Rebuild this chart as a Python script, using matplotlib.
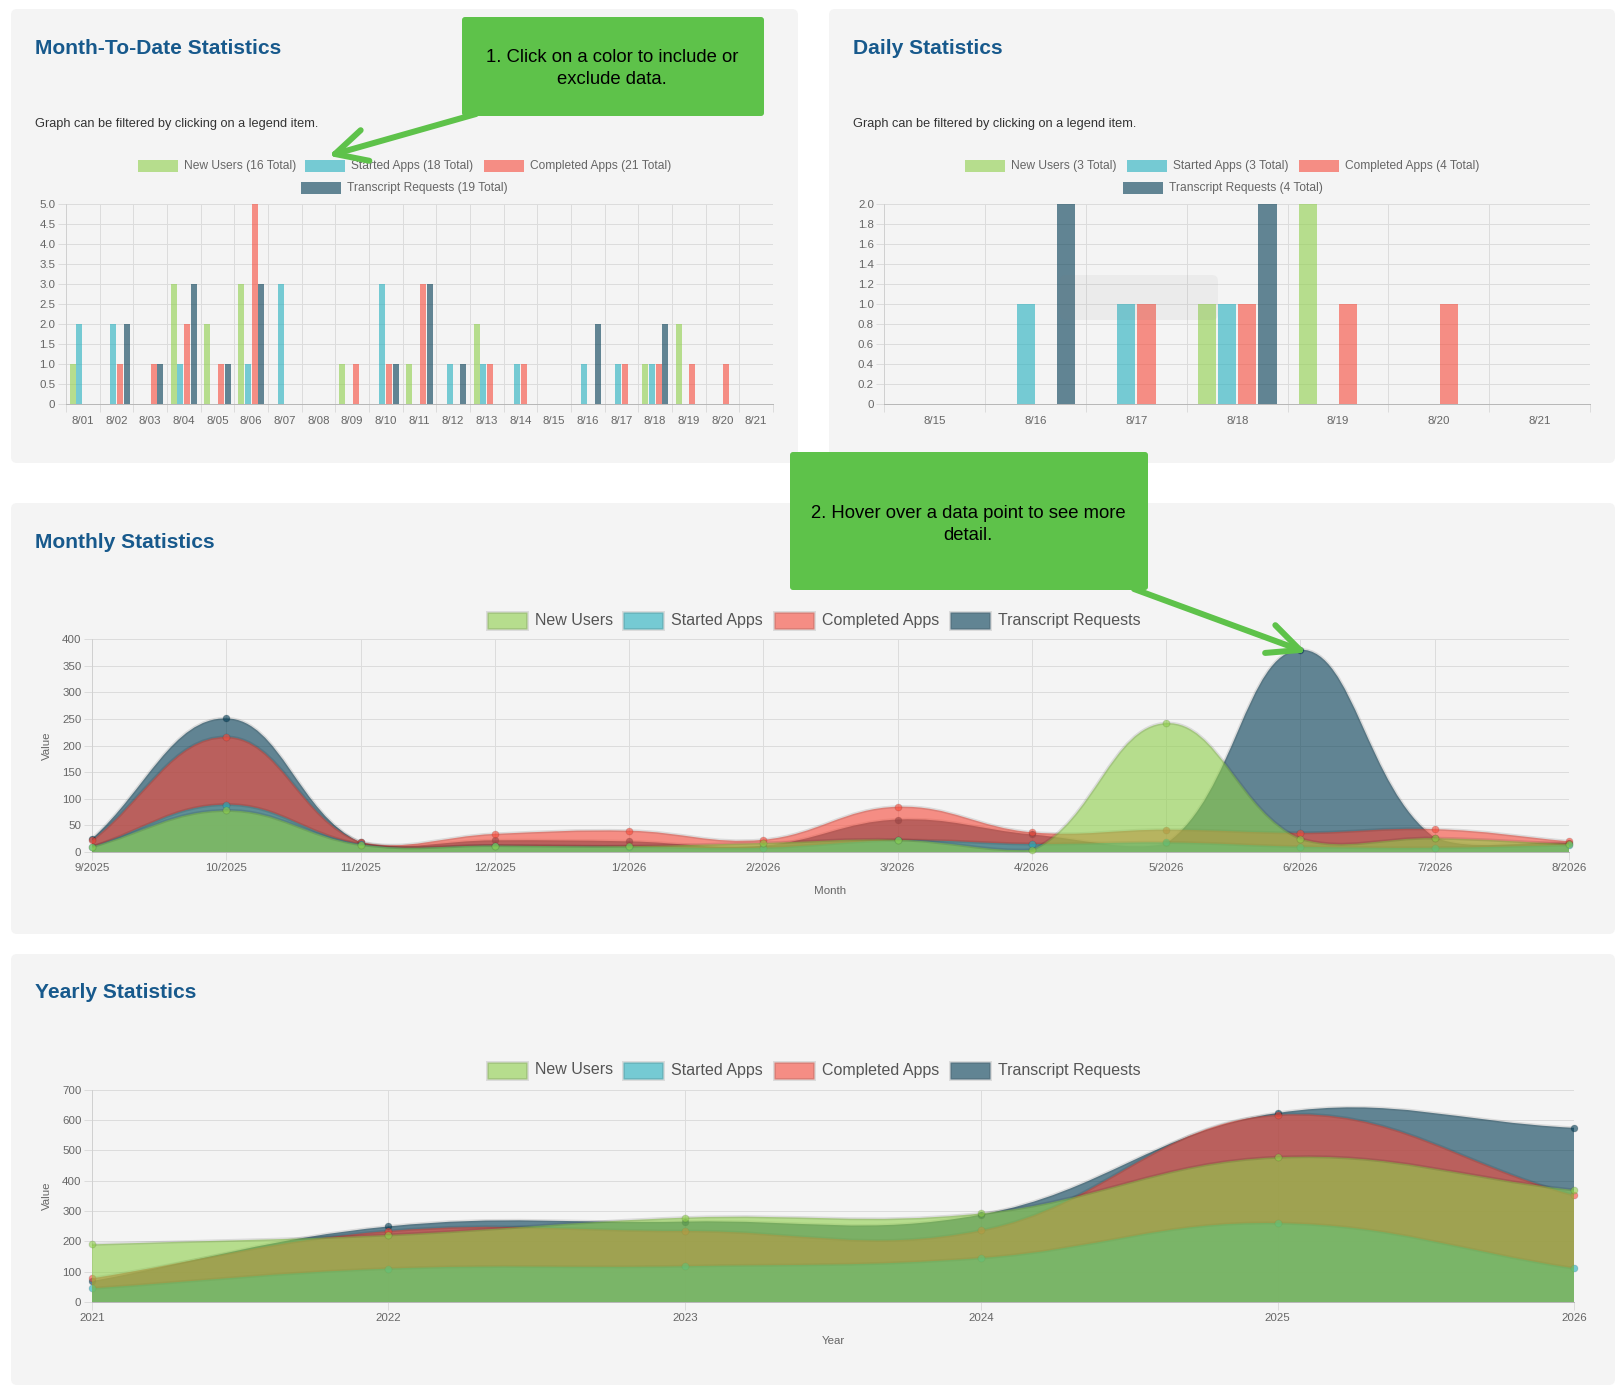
import numpy as np
import matplotlib
matplotlib.use('Agg')
import matplotlib.pyplot as plt
from matplotlib.patches import FancyBboxPatch, Rectangle, PathPatch
from matplotlib.path import Path
from matplotlib.lines import Line2D

W, H = 1624, 1387
DPI = 100
plt.rcParams['font.family'] = ['Liberation Sans', 'DejaVu Sans']

# ---------------- data ----------------
series_names = ['New Users', 'Started Apps', 'Completed Apps', 'Transcript Requests']

mtd_days = ['8/01', '8/02', '8/03', '8/04', '8/05', '8/06', '8/07', '8/08', '8/09', '8/10',
            '8/11', '8/12', '8/13', '8/14', '8/15', '8/16', '8/17', '8/18', '8/19', '8/20', '8/21']
mtd_new_users = [1, 0, 0, 3, 2, 3, 0, 0, 1, 0, 1, 0, 2, 0, 0, 0, 0, 1, 2, 0, 0]
mtd_started = [2, 2, 0, 1, 0, 1, 3, 0, 0, 3, 0, 1, 1, 1, 0, 1, 1, 1, 0, 0, 0]
mtd_completed = [0, 1, 1, 2, 1, 5, 0, 0, 1, 1, 3, 0, 1, 1, 0, 0, 1, 1, 1, 1, 0]
mtd_transcripts = [0, 2, 1, 3, 1, 3, 0, 0, 0, 1, 3, 1, 0, 0, 0, 2, 0, 2, 0, 0, 0]

daily_days = ['8/15', '8/16', '8/17', '8/18', '8/19', '8/20', '8/21']
daily_new_users = [0, 0, 0, 1, 2, 0, 0]
daily_started = [0, 1, 1, 1, 0, 0, 0]
daily_completed = [0, 0, 1, 1, 1, 1, 0]
daily_transcripts = [0, 2, 0, 2, 0, 0, 0]

months = ['9/2025', '10/2025', '11/2025', '12/2025', '1/2026', '2/2026', '3/2026',
          '4/2026', '5/2026', '6/2026', '7/2026', '8/2026']
m_new_users = [10, 78, 14, 12, 11, 17, 23, 4, 242, 25, 26, 15]
m_started = [10, 89, 15, 12, 10, 8, 22, 15, 18, 10, 8, 13]
m_completed = [22, 216, 19, 34, 40, 23, 85, 37, 42, 36, 43, 20]
m_transcripts = [25, 251, 18, 22, 20, 12, 61, 33, 16, 380, 27, 17]

years = ['2021', '2022', '2023', '2024', '2025', '2026']
y_new_users = [190, 221, 278, 292, 477, 369]
y_started = [45, 110, 118, 145, 260, 111]
y_completed = [78, 234, 234, 236, 617, 352]
y_transcripts = [69, 249, 265, 288, 623, 574]

# ---------------- style ----------------
BASE = [(142/255, 207/255, 73/255), (33/255, 175/255, 190/255),
        (247/255, 73/255, 57/255), (0/255, 58/255, 83/255)]
ALPHA = 0.6
def fc(i):
    return (*BASE[i], ALPHA)

PANEL = '#f4f4f4'
TITLE_C = '#17598c'
GRID = '#dcdcdc'
ZERO = '#b8b8b8'
AXL = '#d0d0d0'
TICK_C = '#666666'
GREEN = '#5ec24a'
PX = 0.72  # px -> pt


def px_rect(x0, y0, x1, y1):
    return [x0 / W, 1 - y1 / H, (x1 - x0) / W, (y1 - y0) / H]


fig = plt.figure(figsize=(W / DPI, H / DPI), dpi=DPI)
fig.patch.set_facecolor('white')

bg = fig.add_axes([0, 0, 1, 1], zorder=0)
bg.set_xlim(0, W); bg.set_ylim(H, 0); bg.axis('off')
top = fig.add_axes([0, 0, 1, 1], zorder=10)
top.set_xlim(0, W); top.set_ylim(H, 0); top.axis('off')

# panels
for (x0, y0, x1, y1) in [(11, 9, 798, 463), (829, 9, 1615, 463),
                         (11, 503, 1615, 934), (11, 954, 1615, 1385)]:
    bg.add_patch(FancyBboxPatch((x0, y0), x1 - x0, y1 - y0,
                                boxstyle='round,pad=0,rounding_size=6',
                                fc=PANEL, ec='none'))

# titles / subtitles
for (x, y, t) in [(35, 49, 'Month-To-Date Statistics'), (853, 49, 'Daily Statistics'),
                  (35, 543, 'Monthly Statistics'), (35, 993, 'Yearly Statistics')]:
    bg.text(x, y, t, fontsize=21 * PX, fontweight='bold', color=TITLE_C, va='center', ha='left')
for x in (35, 853):
    bg.text(x, 124, 'Graph can be filtered by clicking on a legend item.', fontsize=12.75 * PX,
            color='#333333', va='center', ha='left')


def bar_legend(items, fontpx=12):
    for (bx, by, i, label) in items:
        bg.add_patch(Rectangle((bx, by - 6), 40, 12, fc=fc(i), ec='none'))
        bg.text(bx + 46, by, label, fontsize=fontpx * PX, color=TICK_C, va='center', ha='left')


def line_legend(y):
    xs = [487, 623.5, 774, 950]
    for i, bx in enumerate(xs):
        bg.add_patch(Rectangle((bx, y - 8.5), 40, 17, fc=fc(i), ec=(0, 0, 0, 0.1), lw=3 * PX))
        bg.text(bx + 48, y, series_names[i], fontsize=16 * PX, color='#555555',
                va='center', ha='left')


mtd_series = [mtd_new_users, mtd_started, mtd_completed, mtd_transcripts]
daily_series = [daily_new_users, daily_started, daily_completed, daily_transcripts]

bar_legend([(137.7, 165.7, 0, f'{series_names[0]} ({sum(mtd_series[0])} Total)'),
            (305.5, 165.7, 1, f'{series_names[1]} ({sum(mtd_series[1])} Total)'),
            (483.7, 165.7, 2, f'{series_names[2]} ({sum(mtd_series[2])} Total)'),
            (301.4, 187.5, 3, f'{series_names[3]} ({sum(mtd_series[3])} Total)')])
bar_legend([(965.3, 165.7, 0, f'{series_names[0]} ({sum(daily_series[0])} Total)'),
            (1126.8, 165.7, 1, f'{series_names[1]} ({sum(daily_series[1])} Total)'),
            (1298.8, 165.7, 2, f'{series_names[2]} ({sum(daily_series[2])} Total)'),
            (1122.7, 187.5, 3, f'{series_names[3]} ({sum(daily_series[3])} Total)')])
line_legend(620.4)
line_legend(1070)


def style_common(ax):
    ax.set_facecolor('none')
    for s in ('top', 'right'):
        ax.spines[s].set_visible(False)
    ax.spines['left'].set_color(AXL)
    ax.spines['left'].set_linewidth(PX)
    ax.spines['bottom'].set_color(ZERO)
    ax.spines['bottom'].set_linewidth(PX)
    ax.spines['bottom'].set_zorder(2.5)
    ax.tick_params(axis='y', length=8 * PX, width=PX, color=GRID, labelcolor=TICK_C,
                   labelsize=11.5 * PX, pad=2.5 * PX)
    ax.grid(True, axis='y', color=GRID, lw=PX, alpha=1)
    ax.set_axisbelow(True)


def bar_chart(rect, labels, series, ymax, ystep):
    ax = fig.add_axes(px_rect(*rect), zorder=1)
    style_common(ax)
    n = len(labels)
    x = np.arange(n)
    slot = 0.8 / 4
    for i, vals in enumerate(series):
        ax.bar(x + (i - 1.5) * slot, vals, width=slot * 0.9, color=fc(i), lw=0, zorder=3)
    ax.set_xlim(-0.5, n - 0.5)
    ax.set_ylim(0, ymax)
    ax.set_xticks(x)
    ax.set_xticklabels(labels)
    ax.set_xticks(np.arange(-0.5, n), minor=True)
    ax.tick_params(axis='x', which='major', length=0, labelcolor=TICK_C,
                   labelsize=11.5 * PX, pad=12 * PX)
    ax.tick_params(axis='x', which='minor', length=8 * PX, width=PX, color=GRID)
    ax.grid(True, axis='x', which='minor', color=GRID, lw=PX, alpha=1)
    ticks = np.arange(0, ymax + 1e-9, ystep)
    ax.set_yticks(ticks)
    ax.set_yticklabels(['0' if t == 0 else f'{t:.1f}' for t in ticks])
    return ax


bar_chart((66, 204, 773, 404), mtd_days, mtd_series, 5.0, 0.5)
bar_chart((884.5, 204, 1590, 404), daily_days, daily_series, 2.0, 0.2)

# faint tooltip remnant in the daily chart
top.add_patch(FancyBboxPatch((1060, 275), 158, 45, boxstyle='round,pad=0,rounding_size=6',
                             fc=(0.5, 0.5, 0.5, 0.07), ec='none'))


def spline_verts(ax, xs, ys, t=0.4):
    pts = ax.transData.transform(np.column_stack([xs, ys]).astype(float))
    bb = ax.bbox
    n = len(pts)
    cprev = np.zeros_like(pts)
    cnext = np.zeros_like(pts)
    for i in range(n):
        p = pts[i - 1] if i > 0 else pts[i]
        c = pts[i]
        nx = pts[i + 1] if i < n - 1 else pts[i]
        d01 = np.hypot(*(c - p))
        d12 = np.hypot(*(nx - c))
        s = d01 + d12
        s01 = d01 / s if s else 0
        s12 = d12 / s if s else 0
        cprev[i] = c - t * s01 * (nx - p)
        cnext[i] = c + t * s12 * (nx - p)
    for arr in (cprev, cnext):
        arr[:, 0] = np.clip(arr[:, 0], bb.x0, bb.x1)
        arr[:, 1] = np.clip(arr[:, 1], bb.y0, bb.y1)
    verts = [pts[0]]
    codes = [Path.MOVETO]
    for i in range(n - 1):
        verts += [cnext[i], cprev[i + 1], pts[i + 1]]
        codes += [Path.CURVE4] * 3
    inv = ax.transData.inverted()
    return inv.transform(np.array(verts)), codes


def line_chart(rect, labels, series, ymax, ystep):
    ax = fig.add_axes(px_rect(*rect), zorder=1)
    style_common(ax)
    n = len(labels)
    x = np.arange(n)
    ax.set_xlim(0, n - 1)
    ax.set_ylim(0, ymax)
    ax.set_xticks(x)
    ax.set_xticklabels(labels)
    ax.tick_params(axis='x', length=8 * PX, width=PX, color=GRID, labelcolor=TICK_C,
                   labelsize=11.5 * PX, pad=3 * PX)
    ax.grid(True, axis='x', color=GRID, lw=PX, alpha=1)
    ax.set_yticks(np.arange(0, ymax + 1e-9, ystep))
    fig.canvas.draw()
    for i in reversed(range(len(series))):
        vals = series[i]
        verts, codes = spline_verts(ax, x, vals)
        fill_v = np.vstack([verts, [[x[-1], 0], [x[0], 0], [x[0], 0]]])
        fill_c = codes + [Path.LINETO, Path.LINETO, Path.CLOSEPOLY]
        ax.add_patch(PathPatch(Path(fill_v, fill_c), fc=fc(i), ec='none', zorder=3))
        ax.add_patch(PathPatch(Path(verts, codes), fc='none', ec=(0, 0, 0, 0.1),
                               lw=3 * PX, zorder=3))
        ax.plot(x, vals, ls='none', marker='o', ms=7 * PX, mfc=fc(i),
                mec=(0, 0, 0, 0.1), mew=PX, zorder=3, clip_on=False)
    return ax


line_chart((92, 639, 1569, 852), months,
           [m_new_users, m_started, m_completed, m_transcripts], 400, 50)
line_chart((92, 1089.6, 1574, 1302), years,
           [y_new_users, y_started, y_completed, y_transcripts], 700, 100)

# axis titles
for (x, y, t, r) in [(46.6, 745.5, 'Value', 90), (830.5, 890.7, 'Month', 0),
                     (46.6, 1196, 'Value', 90), (833, 1341, 'Year', 0)]:
    bg.text(x, y, t, rotation=r, fontsize=11.5 * PX, color=TICK_C, ha='center', va='center')

# ---------------- callouts ----------------
def callout(x0, y0, x1, y1, lines, cx, ys):
    top.add_patch(FancyBboxPatch((x0, y0), x1 - x0, y1 - y0,
                                 boxstyle='round,pad=0,rounding_size=3', fc=GREEN, ec='none'))
    for ln, yy in zip(lines, ys):
        top.text(cx, yy, ln, fontsize=18.5 * PX, color='black', ha='center',
                 va='center_baseline')


def arrow(sx, sy, tx, ty, spread_deg, length=35, lw=6):
    top.add_line(Line2D([sx, tx], [sy, ty], color=GREEN, lw=lw * PX, solid_capstyle='round'))
    ang = np.arctan2(sy - ty, sx - tx)
    for sgn in (-1, 1):
        a = ang + sgn * np.radians(spread_deg)
        top.add_line(Line2D([tx, tx + length * np.cos(a)], [ty, ty + length * np.sin(a)],
                            color=GREEN, lw=lw * PX, solid_capstyle='round'))


callout(462, 17, 764, 116, ['1. Click on a color to include or', 'exclude data.'], 612, [56, 78])
arrow(476, 114, 335, 154, 27)
callout(790, 452, 1148, 590, ['2. Hover over a data point to see more', 'detail.'], 968, [511, 533])
arrow(1134, 589, 1300, 650, 25)

fig.savefig('out.png', dpi=DPI, facecolor='white')
